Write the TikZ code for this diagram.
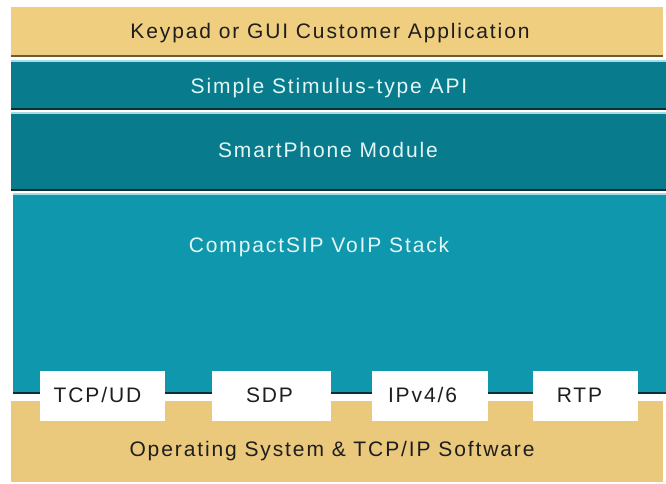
\documentclass[tikz,border=0pt]{standalone}
\usepackage{fontspec}
\setmainfont{Liberation Sans}[LetterSpace=9]
\definecolor{beigetop}{HTML}{EFCE80}
\definecolor{beigebot}{HTML}{EAC97D}
\definecolor{beigeline}{HTML}{6E5A34}
\definecolor{tealdark}{HTML}{087C8C}
\definecolor{teallight}{HTML}{0F98AD}
\definecolor{tealhi}{HTML}{A6DCE2}
\definecolor{tealline}{HTML}{0B2E34}
\definecolor{textdark}{HTML}{1E1E1E}
\definecolor{textlight}{HTML}{E4F6F6}
\begin{document}
\begin{tikzpicture}[x=1pt,y=-1pt,
  lbl/.style={font=\fontsize{21}{25}\selectfont, inner sep=0pt, anchor=base},
  darklbl/.style={lbl, text=textdark},
  lightlbl/.style={lbl, text=textlight},
  whitebox/.style={fill=white}]
\useasboundingbox (0,0) rectangle (666,483);
\fill[white] (0,0) rectangle (666,483);
% top application layer
\fill[beigetop] (11,7) rectangle (663,57);
\fill[beigeline] (11,55) rectangle (663,57);
\node[darklbl] (app) at (330,38.5) {Keypad or GUI Customer Application};
% API layer
\fill[tealhi] (11,60) rectangle (666,62);
\fill[tealdark] (11,62) rectangle (666,108);
\fill[tealline] (11,108) rectangle (666,110);
\node[lightlbl] (api) at (329,93) {Simple Stimulus-type API};
% SmartPhone module
\fill[tealhi] (11,112) rectangle (666,114);
\fill[tealdark] (11,114) rectangle (666,189);
\fill[tealline] (11,189) rectangle (666,191);
\node[lightlbl] (smart) at (328,157.5) {SmartPhone Module};
% CompactSIP stack
\fill[tealhi] (13,193) rectangle (666,195);
\fill[teallight] (13,195) rectangle (666,391.5);
\fill[tealline] (13,391.5) rectangle (666,393.5);
\node[lightlbl] (stack) at (319,252) {CompactSIP VoIP Stack};
% OS layer
\fill[beigebot] (11,401) rectangle (663,482);
\node[darklbl] (os) at (332,456) {Operating System \& TCP/IP Software};
% protocol boxes
\fill[whitebox] (40,371) rectangle (165,421);
\fill[whitebox] (212,371) rectangle (331,421);
\fill[whitebox] (372,371) rectangle (488,421);
\fill[whitebox] (533,371) rectangle (638,421);
\node[darklbl] (tcp) at (97.5,402.5) {TCP/UD};
\node[darklbl] (sdp) at (269.5,402.5) {SDP};
\node[darklbl] (ip) at (422.5,402.5) {IPv4/6};
\node[darklbl] (rtp) at (579.5,402.5) {RTP};
\end{tikzpicture}
\end{document}
